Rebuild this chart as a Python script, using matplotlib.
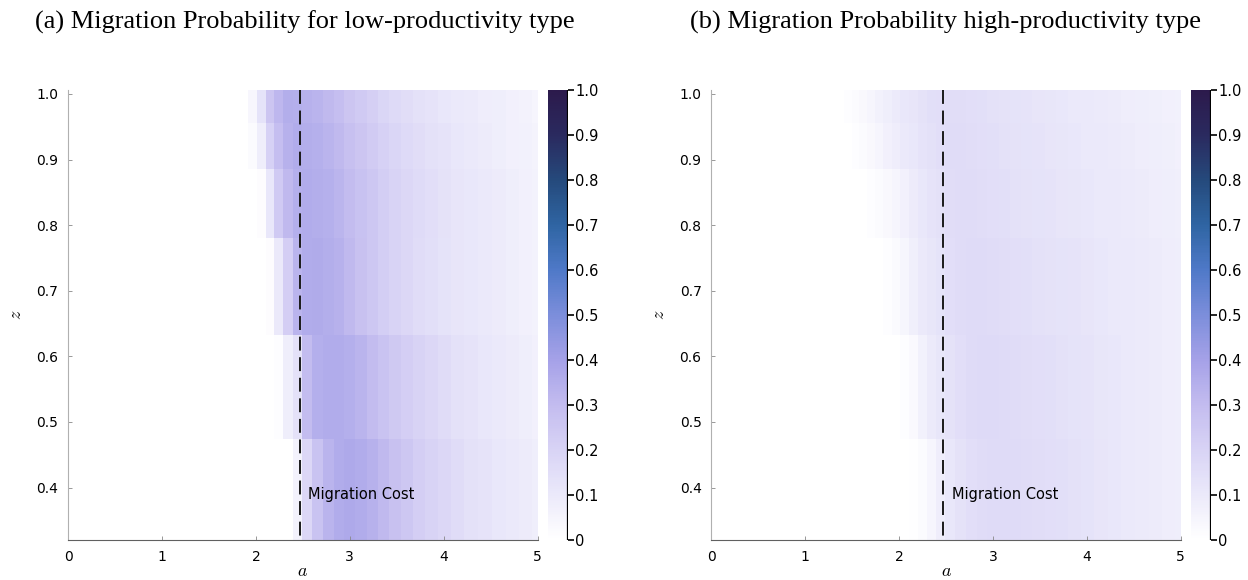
import numpy as np
import matplotlib
matplotlib.use("Agg")
import matplotlib.pyplot as plt
from matplotlib.colors import LinearSegmentedColormap

# Data
a_edges = [0, 1.412, 1.494, 1.575, 1.660, 1.742, 1.831, 1.920, 2.008, 2.104, 2.197, 2.293,
           2.392, 2.49, 2.60, 2.71, 2.83, 2.94, 3.06, 3.18, 3.30, 3.42, 3.55, 3.67, 3.80,
           3.94, 4.08, 4.22, 4.36, 4.51, 4.66, 4.80, 4.94, 5.0]
z_edges = [0.32, 0.474, 0.632, 0.780, 0.886, 0.956, 1.006]
migration_cost = 2.47

# rows from lowest z to highest z
prob_low = [
    [0]*12 + [0.06, 0.18, 0.27, 0.33, 0.36, 0.37, 0.36, 0.34, 0.31, 0.28, 0.25, 0.22, 0.20, 0.18, 0.16, 0.14, 0.125, 0.11, 0.10, 0.09, 0.08],
    [0]*10 + [0.01, 0.08, 0.14, 0.30, 0.35, 0.36, 0.36, 0.35, 0.33, 0.30, 0.27, 0.245, 0.22, 0.20, 0.18, 0.16, 0.14, 0.125, 0.11, 0.10, 0.09, 0.08, 0.07],
    [0]*9 + [0.015, 0.10, 0.22, 0.33, 0.36, 0.365, 0.355, 0.34, 0.31, 0.28, 0.25, 0.225, 0.20, 0.18, 0.16, 0.145, 0.13, 0.12, 0.11, 0.10, 0.09, 0.08, 0.07, 0.06],
    [0]*8 + [0.015, 0.11, 0.24, 0.31, 0.35, 0.36, 0.355, 0.345, 0.325, 0.30, 0.275, 0.25, 0.225, 0.20, 0.18, 0.165, 0.15, 0.135, 0.12, 0.11, 0.10, 0.09, 0.08, 0.07, 0.06],
    [0]*7 + [0.02, 0.08, 0.21, 0.29, 0.34, 0.36, 0.355, 0.345, 0.33, 0.31, 0.285, 0.26, 0.235, 0.21, 0.19, 0.17, 0.155, 0.14, 0.125, 0.11, 0.10, 0.09, 0.08, 0.07, 0.065, 0.055],
    [0]*7 + [0.04, 0.13, 0.26, 0.32, 0.355, 0.35, 0.34, 0.33, 0.31, 0.29, 0.26, 0.24, 0.215, 0.19, 0.17, 0.155, 0.14, 0.125, 0.11, 0.10, 0.095, 0.085, 0.08, 0.07, 0.06, 0.05],
]
prob_high = [
    [0]*9 + [0.005, 0.02, 0.05, 0.085, 0.11, 0.135, 0.15, 0.16, 0.165, 0.165, 0.165, 0.16, 0.155, 0.15, 0.145, 0.14, 0.13, 0.12, 0.11, 0.10, 0.095, 0.09, 0.085, 0.08],
    [0]*8 + [0.01, 0.03, 0.065, 0.095, 0.115, 0.135, 0.15, 0.165, 0.17, 0.17, 0.165, 0.16, 0.155, 0.15, 0.145, 0.14, 0.13, 0.125, 0.115, 0.11, 0.10, 0.095, 0.09, 0.085, 0.08],
    [0]*6 + [0.01, 0.025, 0.045, 0.075, 0.10, 0.115, 0.13, 0.15, 0.16, 0.165, 0.165, 0.16, 0.155, 0.15, 0.145, 0.14, 0.135, 0.13, 0.125, 0.12, 0.11, 0.105, 0.10, 0.095, 0.09, 0.085, 0.08],
    [0]*4 + [0.01, 0.02, 0.035, 0.05, 0.07, 0.09, 0.11, 0.125, 0.14, 0.155, 0.16, 0.16, 0.155, 0.15, 0.145, 0.14, 0.135, 0.13, 0.125, 0.12, 0.115, 0.11, 0.105, 0.10, 0.095, 0.09, 0.085, 0.08, 0.075],
    [0]*2 + [0.01, 0.02, 0.035, 0.05, 0.07, 0.085, 0.10, 0.11, 0.125, 0.14, 0.15, 0.16, 0.16, 0.155, 0.15, 0.145, 0.14, 0.135, 0.13, 0.125, 0.12, 0.115, 0.11, 0.105, 0.10, 0.095, 0.09, 0.085, 0.08, 0.075, 0.07],
    [0]*1 + [0.01, 0.02, 0.035, 0.05, 0.065, 0.08, 0.095, 0.11, 0.12, 0.135, 0.145, 0.15, 0.155, 0.155, 0.15, 0.145, 0.14, 0.135, 0.13, 0.125, 0.12, 0.115, 0.11, 0.105, 0.10, 0.095, 0.09, 0.085, 0.08, 0.075, 0.07, 0.065],
]
titles = ["(a) Migration Probability for low-productivity type",
          "(b) Migration Probability high-productivity type"]
cbar_ticks = [0, 0.1, 0.2, 0.3, 0.4, 0.5, 0.6, 0.7, 0.8, 0.9, 1.0]
cbar_labels = ["0", "0.1", "0.2", "0.3", "0.4", "0.5", "0.6", "0.7", "0.8", "0.9", "1.0"]

# reversed devon-like colour map
devon_r = LinearSegmentedColormap.from_list("devon_r", [
    (0.0, "#ffffff"), (0.1, "#ebe9fa"), (0.2, "#d8d3f5"), (0.3, "#c3bcef"),
    (0.4, "#a5a1e8"), (0.5, "#7c8edb"), (0.6, "#4f79c8"), (0.7, "#2f65a3"),
    (0.8, "#254a7c"), (0.9, "#2a2a5f"), (1.0, "#2c1a4c")])

plt.rcParams["mathtext.fontset"] = "cm"
plt.rcParams["lines.scale_dashes"] = False
plt.rcParams["font.family"] = "DejaVu Sans"

fig = plt.figure(figsize=(12.48, 5.8), dpi=100)
W, H = 1248, 580
panels = [(68.1, prob_low, titles[0], 305), (711.3, prob_high, titles[1], 945)]

for x0, values, title, tx in panels:
    ax = fig.add_axes([x0 / W, 40 / H, 469.5 / W, 450 / H])
    cax = fig.add_axes([(x0 + 480) / W, 40 / H, 20 / W, 450 / H])
    mesh = ax.pcolormesh(a_edges, z_edges, np.array(values), cmap=devon_r, vmin=0, vmax=1)
    ax.plot([migration_cost, migration_cost], [z_edges[-1], z_edges[0]],
            color="#1a1a1a", lw=1.4, dashes=(10, 4.8))
    ax.text(migration_cost + 0.09, 0.389, "Migration Cost", fontsize=10.5,
            va="center", ha="left", color="black")
    ax.set_xlim(0, 5)
    ax.set_ylim(z_edges[0], z_edges[-1])
    ax.set_xticks([0, 1, 2, 3, 4, 5])
    ax.set_yticks([0.4, 0.5, 0.6, 0.7, 0.8, 0.9, 1.0])
    ax.set_yticklabels(["0.4", "0.5", "0.6", "0.7", "0.8", "0.9", "1.0"])
    ax.tick_params(direction="in", length=3, width=0.6, color="#888888",
                   labelsize=10, pad=7)
    for s in ["top", "right"]:
        ax.spines[s].set_visible(False)
    ax.spines["left"].set_color("#b0b0b0")
    ax.spines["left"].set_linewidth(0.8)
    ax.spines["bottom"].set_color("#606060")
    ax.spines["bottom"].set_linewidth(0.8)
    ax.set_xlabel(r"$a$", fontsize=13, labelpad=-1)
    ax.set_ylabel(r"$z$", fontsize=13, labelpad=8)
    fig.text(tx / W, 1 - 22 / H, title, fontsize=19, family="Liberation Serif",
             ha="center", va="center")

    cb = fig.colorbar(mesh, cax=cax)
    cb.outline.set_visible(False)
    cb.set_ticks(cbar_ticks)
    cb.set_ticklabels(cbar_labels)
    cax.tick_params(direction="out", length=4, width=1.2, color="black",
                    labelsize=10.5, pad=1)
    cax.axvline(1, color="black", lw=1.6)
    cax.set_ylim(0, 1)

fig.savefig("out.png", dpi=100)
